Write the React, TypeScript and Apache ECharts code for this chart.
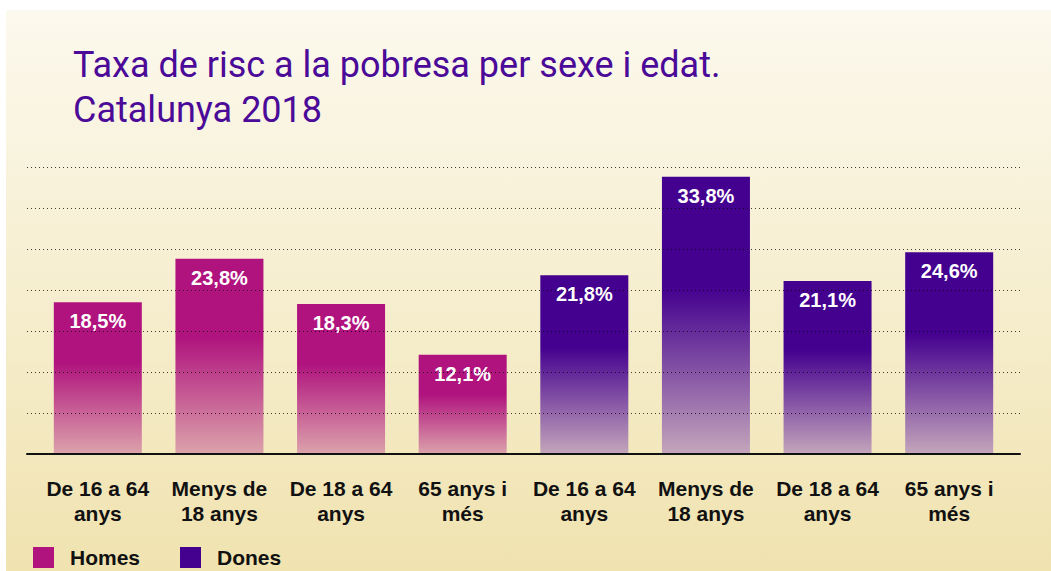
import React, { useEffect, useRef } from "react";
import * as echarts from "echarts";

const categories = [
  "De 16 a 64\nanys",
  "Menys de\n18 anys",
  "De 18 a 64\nanys",
  "65 anys i\nmés",
  "De 16 a 64\nanys",
  "Menys de\n18 anys",
  "De 18 a 64\nanys",
  "65 anys i\nmés",
];
const homes = [18.5, 23.8, 18.3, 12.1, null, null, null, null];
const dones = [null, null, null, null, 21.8, 33.8, 21.1, 24.6];
const titleLines = ["Taxa de risc a la pobresa per sexe i edat.", "Catalunya 2018"];

const HOMES = "#b0137e";
const DONES = "#44008f";

const grad = (top: string, bottom: string) =>
  new echarts.graphic.LinearGradient(0, 0, 0, 1, [
    { offset: 0, color: top },
    { offset: 0.4, color: top },
    { offset: 1, color: bottom },
  ]);

export default function App() {
  const ref = useRef<HTMLDivElement>(null);
  useEffect(() => {
    if (!ref.current) return;
    const chart = echarts.init(ref.current, undefined, { renderer: "svg" });
    const fmt = (p: any) => String(p.value).replace(".", ",") + "%";
    const labelCfg = {
      show: true,
      position: "insideTop" as const,
      distance: 9,
      color: "#ffffff",
      fontFamily: "'Liberation Sans Narrow', 'Liberation Sans', Arial, sans-serif",
      fontWeight: "bold" as const,
      fontSize: 20,
      formatter: fmt,
    };
    chart.setOption({
      animation: false,
      graphic: [
        {
          type: "rect",
          z: -100,
          silent: true,
          shape: { x: 6, y: 10, width: 1045, height: 561 },
          style: {
            fill: new echarts.graphic.LinearGradient(0, 0, 0, 1, [
              { offset: 0, color: "#fcf9ee" },
              { offset: 1, color: "#f0e3b0" },
            ]),
          },
        },
        {
          type: "text",
          left: 73,
          top: 42,
          style: {
            text: titleLines.join("\n"),
            fill: "#4b0a98",
            fontSize: 36,
            lineHeight: 45,
            fontFamily: "'Liberation Sans Narrow', 'Roboto', sans-serif",
          },
        },
      ],
      grid: [
        { left: 27, right: 31, top: 167, bottom: 117 },
        { left: 37, right: 41, top: 167, bottom: 117 },
      ],
      legend: {
        left: 33,
        top: 547,
        padding: 0,
        itemWidth: 21,
        itemHeight: 21,
        itemGap: 40,
        icon: "rect",
        data: [
          { name: "Homes", itemStyle: { color: HOMES } },
          { name: "Dones", itemStyle: { color: DONES } },
        ],
        textStyle: {
          color: "#111",
          fontSize: 21,
          fontWeight: "bold",
          fontFamily: "'Liberation Sans', Arial, sans-serif",
          padding: [0, 0, 0, 11],
        },
      },
      xAxis: [
        {
          gridIndex: 0,
          type: "value",
          min: 0,
          max: 1,
          z: 5,
          axisLine: { show: true, onZero: false, lineStyle: { color: "#111", width: 2 } },
          axisTick: { show: false },
          axisLabel: { show: false },
          splitLine: { show: false },
        },
        {
          gridIndex: 1,
          type: "category",
          data: categories,
          axisLine: { show: false },
          axisTick: { show: false },
          axisLabel: {
            color: "#111",
            fontSize: 21,
            fontWeight: "bold",
            lineHeight: 25,
            margin: 22,
            interval: 0,
            fontFamily: "'Liberation Sans', Arial, sans-serif",
          },
        },
      ],
      yAxis: [
        {
          gridIndex: 0,
          type: "value",
          min: 0,
          max: 35,
          interval: 5,
          z: 5,
          axisLine: { show: false },
          axisTick: { show: false },
          axisLabel: { show: false },
          splitLine: { show: true, lineStyle: { color: "rgba(0,0,0,0.75)", width: 1, type: [1, 3] } },
        },
        {
          gridIndex: 1,
          type: "value",
          min: 0,
          max: 35,
          interval: 5,
          axisLine: { show: false },
          axisTick: { show: false },
          axisLabel: { show: false },
          splitLine: { show: false },
        },
      ],
      series: [
        {
          name: "Homes",
          type: "bar",
          xAxisIndex: 1,
          yAxisIndex: 1,
          stack: "all",
          barWidth: 88,
          data: homes,
          itemStyle: { color: grad(HOMES, "#dca3ab") },
          label: labelCfg,
        },
        {
          name: "Dones",
          type: "bar",
          xAxisIndex: 1,
          yAxisIndex: 1,
          stack: "all",
          barWidth: 88,
          data: dones,
          itemStyle: { color: grad(DONES, "#c4a6bb") },
          label: labelCfg,
        },
      ],
    });
    return () => chart.dispose();
  }, []);
  return (
    <div
      ref={ref}
      style={{ position: "fixed", left: 0, top: 0, width: 1051, height: 571, background: "#ffffff" }}
    />
  );
}
